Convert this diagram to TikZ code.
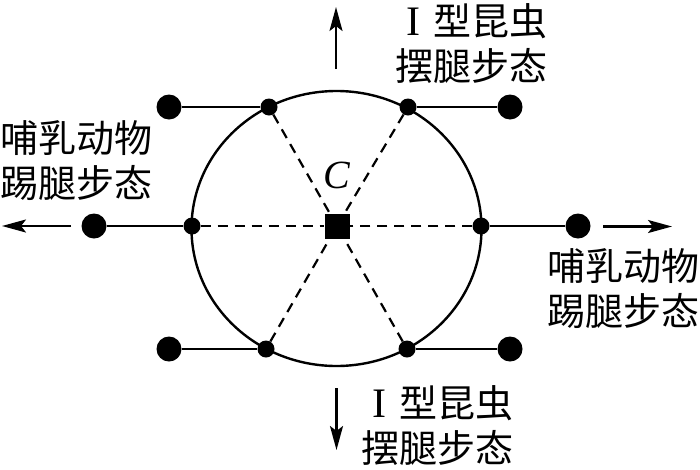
\documentclass[tikz,border=0pt]{standalone}
\usepackage{fontspec}
\setmainfont{Liberation Serif}
\newfontfamily\cjk{Noto Sans CJK SC}
\usetikzlibrary{shapes.geometric,arrows.meta}
\begin{document}
\begin{tikzpicture}[x=1pt,y=-1pt,
  bigdot/.style={circle,fill=black,inner sep=0pt,minimum size=25pt},
  smalldot/.style={circle,fill=black,inner sep=0pt,minimum size=17pt},
  centersq/.style={rectangle,fill=black,inner sep=0pt,minimum size=25pt},
  solidline/.style={line width=2.5pt},
  dashline/.style={line width=2.2pt,dash pattern=on 10pt off 7pt},
  arr/.style={line width=2.3pt,-{Stealth[length=24pt,width=13pt,inset=5pt]}},
  lbl/.style={inner sep=0pt,font=\fontsize{38pt}{40pt}\selectfont},
]
\useasboundingbox (0,0) rectangle (700,469);
% body
\node[ellipse,draw,line width=2.4pt,inner sep=0pt,minimum width=290pt,minimum height=275pt] (body) at (336.5,228.5) {};
% centre
\node[centersq] (c) at (337,226) {};
\node[inner sep=0pt,font=\fontsize{40pt}{42pt}\selectfont] (clabel) at (337,175) {\textit{C}};
% small dots on body
\node[smalldot] (s1) at (269,107) {};
\node[smalldot] (s2) at (408,107) {};
\node[smalldot] (s3) at (192,226) {};
\node[smalldot] (s4) at (481,226) {};
\node[smalldot] (s5) at (266,349) {};
\node[smalldot] (s6) at (407,349) {};
% big dots
\node[bigdot] (b1) at (169,107) {};
\node[bigdot] (b2) at (510,107) {};
\node[bigdot] (b3) at (94,226) {};
\node[bigdot] (b4) at (578,226) {};
\node[bigdot] (b5) at (169,349) {};
\node[bigdot] (b6) at (510,349) {};
% legs
\draw[solidline] (b1) -- (s1);
\draw[solidline] (s2) -- (b2);
\draw[solidline] (b3) -- (s3);
\draw[solidline] (s4) -- (b4);
\draw[solidline] (b5) -- (s5);
\draw[solidline] (s6) -- (b6);
% dashed spokes
\draw[dashline] (s1) -- (c);
\draw[dashline] (s2) -- (c);
\draw[dashline] (s3) -- (c);
\draw[dashline] (s4) -- (c);
\draw[dashline] (s5) -- (c);
\draw[dashline] (s6) -- (c);
% arrows
\coordinate (upB) at (336,69);
\coordinate (upT) at (336,7);
\coordinate (dnT) at (336.5,388);
\coordinate (dnB) at (336.5,450);
\coordinate (ltR) at (71,226);
\coordinate (ltL) at (2,226);
\coordinate (rtL) at (603,226.5);
\coordinate (rtR) at (672,226.5);
\draw[arr] (upB) -- (upT);
\draw[arr] (dnT) -- (dnB);
\draw[arr] (ltR) -- (ltL);
\draw[arr] (rtL) -- (rtR);
% labels
\node[lbl,anchor=base east] (top1) at (548,35) {{\fontsize{42pt}{42pt}\selectfont I}\hspace{13pt}{\cjk 型昆虫}};
\node[lbl,anchor=base east] (top2) at (548,80) {\cjk 摆腿步态};
\node[lbl,anchor=base west] (left1) at (0,152) {\cjk 哺乳动物};
\node[lbl,anchor=base west] (left2) at (0,197) {\cjk 踢腿步态};
\node[lbl,anchor=base east] (right1) at (700,280) {\cjk 哺乳动物};
\node[lbl,anchor=base east] (right2) at (700,325) {\cjk 踢腿步态};
\node[lbl,anchor=base east] (bot1) at (514,417) {{\fontsize{42pt}{42pt}\selectfont I}\hspace{13pt}{\cjk 型昆虫}};
\node[lbl,anchor=base east] (bot2) at (514,462) {\cjk 摆腿步态};
\end{tikzpicture}
\end{document}
